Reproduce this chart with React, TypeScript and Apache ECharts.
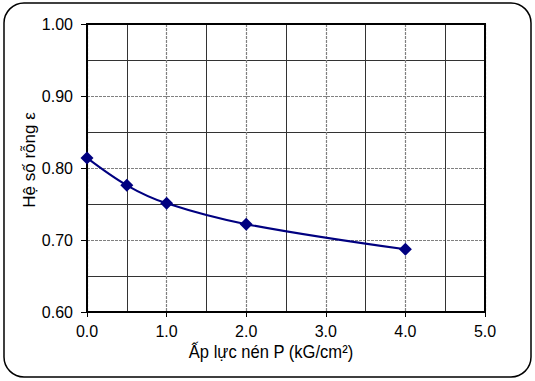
import React, { useEffect, useRef } from "react";
import * as echarts from "echarts";

const pressure = [0, 0.5, 1.0, 2.0, 4.0];
const voidRatio = [0.814, 0.776, 0.751, 0.722, 0.687];
const xAxisTitle = "Ấp lực nén P (kG/cm²)";
const yAxisTitle = "Hệ số rỗng ε";

export default function App() {
  const ref = useRef<HTMLDivElement>(null);
  useEffect(() => {
    if (!ref.current) return;
    const chart = echarts.init(ref.current, null, { renderer: "svg" });
    const font = "Arial, 'Liberation Sans', sans-serif";
    chart.setOption({
      animation: false,
      backgroundColor: "#ffffff",
      graphic: [
        {
          type: "rect",
          shape: { x: 4, y: 3, width: 527, height: 374, r: 20 },
          style: { fill: "none", stroke: "#000", lineWidth: 1.5 },
          z: 100,
        },
        {
          type: "text",
          x: 271,
          y: 352,
          scaleX: 0.92,
          style: {
            text: xAxisTitle,
            font: "18px Arial, 'Liberation Sans', sans-serif",
            fill: "#000",
            align: "center",
            verticalAlign: "middle",
          },
        },
        {
          type: "text",
          x: 29,
          y: 160,
          rotation: Math.PI / 2,
          style: {
            text: yAxisTitle,
            font: "17px Arial, 'Liberation Sans', sans-serif",
            fill: "#000",
            align: "center",
            verticalAlign: "middle",
          },
        },
      ],
      grid: {
        left: 87,
        right: 50,
        top: 24,
        bottom: 69,
        show: true,
        borderColor: "#000",
        borderWidth: 2,
        backgroundColor: "transparent",
        z: 10,
      },
      xAxis: {
        type: "value",
        min: 0,
        max: 5,
        interval: 1,
        axisLine: { show: true, lineStyle: { color: "#000", width: 2 } },
        axisTick: { show: true, inside: false, length: 5, lineStyle: { color: "#000" } },
        axisLabel: {
          fontFamily: font,
          fontSize: 16,
          color: "#000",
          margin: 11,
          formatter: (v: number) => v.toFixed(1),
        },
        splitLine: { show: true, lineStyle: { color: "#808080", type: [3, 1], width: 1.2 } },
        minorTick: { show: false, splitNumber: 2 },
        minorSplitLine: { show: true, lineStyle: { color: "#333", width: 1 } },
      },
      yAxis: {
        type: "value",
        min: 0.6,
        max: 1.0,
        interval: 0.1,
        axisLine: { show: true, lineStyle: { color: "#000", width: 2 } },
        axisTick: { show: true, inside: false, length: 6, lineStyle: { color: "#000" } },
        axisLabel: {
          fontFamily: font,
          fontSize: 16,
          color: "#000",
          margin: 14,
          formatter: (v: number) => v.toFixed(2),
        },
        splitLine: { show: true, lineStyle: { color: "#808080", type: [3, 1], width: 1.2 } },
        minorTick: { show: false, splitNumber: 2 },
        minorSplitLine: { show: true, lineStyle: { color: "#333", width: 1 } },
      },
      series: [
        {
          type: "line",
          data: pressure.map((p, i) => [p, voidRatio[i]]),
          smooth: 0.35,
          symbol: "diamond",
          symbolSize: 13,
          lineStyle: { color: "#000080", width: 2 },
          itemStyle: { color: "#000080" },
          z: 20,
        },
      ],
    });
    return () => chart.dispose();
  }, []);
  return (
    <div
      ref={ref}
      style={{ position: "fixed", left: 0, top: 0, width: 535, height: 381 }}
    />
  );
}
